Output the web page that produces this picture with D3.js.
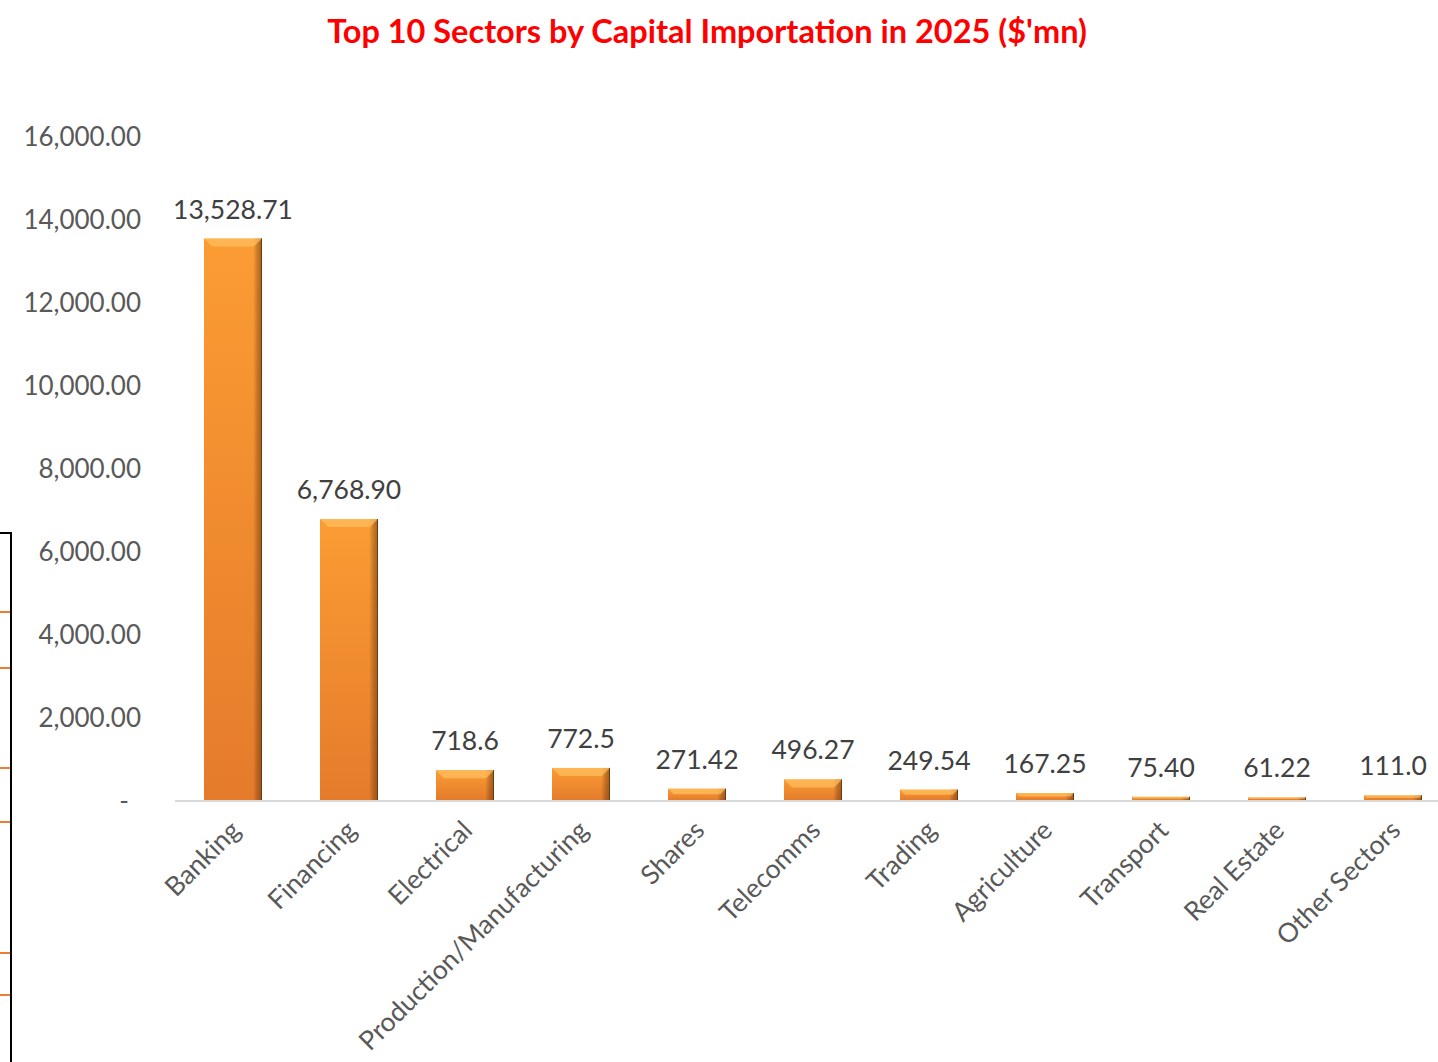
<!DOCTYPE html>
<html>
<head>
<meta charset="utf-8">
<script src="https://cdn.jsdelivr.net/npm/d3@7"></script>
<style>
  html, body { margin: 0; padding: 0; background: #fff; }
  #chart { width: 1438px; height: 1062px; overflow: hidden; }
</style>
</head>
<body>
<div id="chart"></div>
<script>
// data
const sectors = ["Banking", "Financing", "Electrical", "Production/Manufacturing", "Shares",
                 "Telecomms", "Trading", "Agriculture", "Transport", "Real Estate", "Other Sectors"];
const values = [13528.71, 6768.90, 718.6, 772.5, 271.42, 496.27, 249.54, 167.25, 75.40, 61.22, 111.0];
const valueLabels = ["13,528.71", "6,768.90", "718.6", "772.5", "271.42", "496.27",
                     "249.54", "167.25", "75.40", "61.22", "111.0"];
const yTicks = [0, 2000, 4000, 6000, 8000, 10000, 12000, 14000, 16000];
const titleText = "Top 10 Sectors by Capital Importation in 2025 ($'mn)";

const width = 1438, height = 1062;
const font = "Lato, 'Open Sans', sans-serif";

const svg = d3.select("#chart").append("svg")
    .attr("width", width).attr("height", height)
    .style("background", "white");

const defs = svg.append("defs");
const g1 = defs.append("linearGradient").attr("id", "barFill")
    .attr("x1", 0).attr("y1", 0).attr("x2", 0).attr("y2", 1);
g1.append("stop").attr("offset", "0%").attr("stop-color", "#FB9C33");
g1.append("stop").attr("offset", "100%").attr("stop-color", "#E47B2B");
const g2 = defs.append("linearGradient").attr("id", "barSide")
    .attr("x1", 0).attr("y1", 0).attr("x2", 1).attr("y2", 0);
g2.append("stop").attr("offset", "0%").attr("stop-color", "#000").attr("stop-opacity", 0.0);
g2.append("stop").attr("offset", "85%").attr("stop-color", "#000").attr("stop-opacity", 0.0);
g2.append("stop").attr("offset", "100%").attr("stop-color", "#5a2a05").attr("stop-opacity", 0.5);

// scales
const x = d3.scaleBand().domain(sectors).range([175, 1451]).paddingInner(0.5).paddingOuter(0.25);
const y = d3.scaleLinear().domain([0, 16000]).range([800, 136]);

// title
svg.append("text")
    .attr("x", 707).attr("y", 43)
    .attr("text-anchor", "middle")
    .style("font-family", font).style("font-weight", "bold").style("font-size", "32.5px")
    .attr("fill", "#FF0000")
    .text(titleText);

// y axis (labels only)
const yAxis = svg.append("g").attr("transform", "translate(141,0)")
    .call(d3.axisLeft(y).tickValues(yTicks).tickSize(0).tickPadding(0)
        .tickFormat(d => d === 0 ? "-" : d3.format(",.2f")(d)));
yAxis.select(".domain").remove();
yAxis.selectAll("text")
    .style("font-family", font).style("font-size", "26px")
    .attr("fill", "#595959").attr("dy", "0.35em");
yAxis.selectAll(".tick").filter(d => d === 0).select("text").attr("x", -12);

// baseline
svg.append("line")
    .attr("x1", 175).attr("x2", width).attr("y1", y(0) + 1).attr("y2", y(0) + 1)
    .attr("stroke", "#D9D9D9").attr("stroke-width", 2);

// bars
const bars = svg.append("g").selectAll("g")
    .data(sectors.map((s, i) => ({ s, v: values[i], lab: valueLabels[i] })))
    .join("g");

bars.append("rect")
    .attr("x", d => x(d.s)).attr("y", d => y(d.v))
    .attr("width", x.bandwidth()).attr("height", d => y(0) - y(d.v))
    .attr("fill", "url(#barFill)");
bars.append("rect")
    .attr("x", d => x(d.s)).attr("y", d => y(d.v))
    .attr("width", x.bandwidth()).attr("height", d => y(0) - y(d.v))
    .attr("fill", "url(#barSide)");
// top bevel
bars.append("path")
    .attr("d", d => {
        const x0 = x(d.s), x1 = x0 + x.bandwidth(), t = y(d.v);
        const b = Math.min(8, (y(0) - t) / 2);
        return `M${x0},${t}L${x1},${t}L${x1 - b},${t + b}L${x0 + b},${t + b}Z`;
    })
    .attr("fill", "#FFC060").attr("opacity", 0.7);
bars.append("line")
    .attr("x1", d => x(d.s) + x.bandwidth() - 0.5).attr("x2", d => x(d.s) + x.bandwidth() - 0.5)
    .attr("y1", d => y(d.v)).attr("y2", y(0))
    .attr("stroke", "#6b3a10").attr("stroke-width", 1);

// value labels
bars.append("text")
    .attr("x", d => x(d.s) + x.bandwidth() / 2)
    .attr("y", d => y(d.v) - 20)
    .attr("text-anchor", "middle")
    .style("font-family", font).style("font-size", "26.5px")
    .attr("fill", "#404040")
    .text(d => d.lab);

// category labels, rotated
svg.append("g").selectAll("text")
    .data(sectors).join("text")
    .attr("transform", d => `translate(${x(d) + x.bandwidth() / 2 + 9},${y(0) + 32}) rotate(-45)`)
    .attr("text-anchor", "end")
    .style("font-family", font).style("font-size", "26.5px")
    .attr("fill", "#595959")
    .text(d => d);

// edge of a neighbouring chart, visible at the left border
const edge = svg.append("g");
edge.append("path").attr("d", "M0,533H11V1062").attr("fill", "none")
    .attr("stroke", "#000").attr("stroke-width", 2);
edge.selectAll("line").data([612, 668, 768, 822, 953, 995]).join("line")
    .attr("x1", 0).attr("x2", 10).attr("y1", d => d).attr("y2", d => d)
    .attr("stroke", "#ED7D31").attr("stroke-width", 2);
</script>
</body>
</html>
